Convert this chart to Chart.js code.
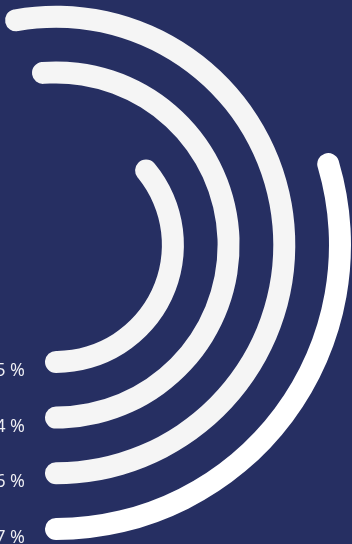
<!DOCTYPE html>
<html>
<head>
<meta charset="utf-8">
<script src="https://cdn.jsdelivr.net/npm/chart.js@4.4.1/dist/chart.umd.min.js"></script>
<style>
  html, body { margin: 0; padding: 0; }
  body {
    width: 352px;
    height: 544px;
    overflow: hidden;
    position: relative;
    background: #262f62;
  }
  /* the ring centre sits near the left edge, so the canvas hangs off the page */
  #rings { position: absolute; left: -244px; top: -55px; }
</style>
</head>
<body>
<canvas id="rings" width="600" height="600"></canvas>
<script>
// Ring values, outermost ring first
const ringNames = ['Ring 1', 'Ring 2', 'Ring 3', 'Ring 4'];
const ringValues = [37, 66, 64, 45];
const ringLabels = ['37 %', '66 %', '64 %', '45 %'];
const ringColors = ['#ffffff', '#f5f5f5', '#f5f5f5', '#f5f5f5'];

// 100 on the scale covers this many degrees, bars grow from the bottom
const maxValue = 100;
const fullSweep = 288;

// bar thickness, empty band between bars, radius of the outer edge
const barWidth = 22;
const gapWidth = 33.7;
const outerEdge = 295;
const cap = barWidth / 2;

const datasets = [];
ringValues.forEach((value, i) => {
    if (i > 0) {
        // transparent band that keeps the rings apart
        datasets.push({
            label: 'gap',
            data: [1],
            backgroundColor: 'transparent',
            borderWidth: 0,
            hoverOffset: 0,
            weight: gapWidth
        });
    }
    // round ends stick out past the value, so widen the sweep by one cap each side
    const r = outerEdge - i * (barWidth + gapWidth) - cap;
    const capDeg = cap / r * 180 / Math.PI;
    const circumference = fullSweep + 2 * capDeg * maxValue / value;
    datasets.push({
        label: ringNames[i],
        ringIndex: i,
        data: [maxValue - value, value],
        backgroundColor: ['transparent', ringColors[i]],
        borderWidth: 0,
        hoverOffset: 0,
        borderRadius: (ctx) => ctx.dataIndex === 1 ? cap : 0,
        weight: barWidth,
        circumference: circumference,
        rotation: 180 + capDeg - circumference
    });
});

// percentage text to the left of where each bar starts
const ringLabelPlugin = {
    id: 'ringLabels',
    afterDatasetsDraw(chart) {
        const ctx = chart.ctx;
        ctx.save();
        ctx.font = '18px "Open Sans"';
        ctx.fillStyle = '#f0f0f4';
        ctx.textAlign = 'right';
        ctx.textBaseline = 'alphabetic';
        chart.data.datasets.forEach((ds, di) => {
            if (ds.ringIndex === undefined) return;
            const arc = chart.getDatasetMeta(di).data[1];
            const mid = (arc.innerRadius + arc.outerRadius) / 2;
            ctx.fillText(ringLabels[ds.ringIndex], arc.x - 31, arc.y + mid + 14);
        });
        ctx.restore();
    }
};

new Chart(document.getElementById('rings'), {
    type: 'doughnut',
    data: { labels: ['rest', 'value'], datasets: datasets },
    options: {
        responsive: false,
        animation: false,
        events: [],
        cutout: outerEdge - (4 * barWidth + 3 * gapWidth),
        layout: { padding: 300 - outerEdge },
        plugins: {
            legend: { display: false },
            tooltip: { enabled: false }
        }
    },
    plugins: [ringLabelPlugin]
});
</script>
</body>
</html>
